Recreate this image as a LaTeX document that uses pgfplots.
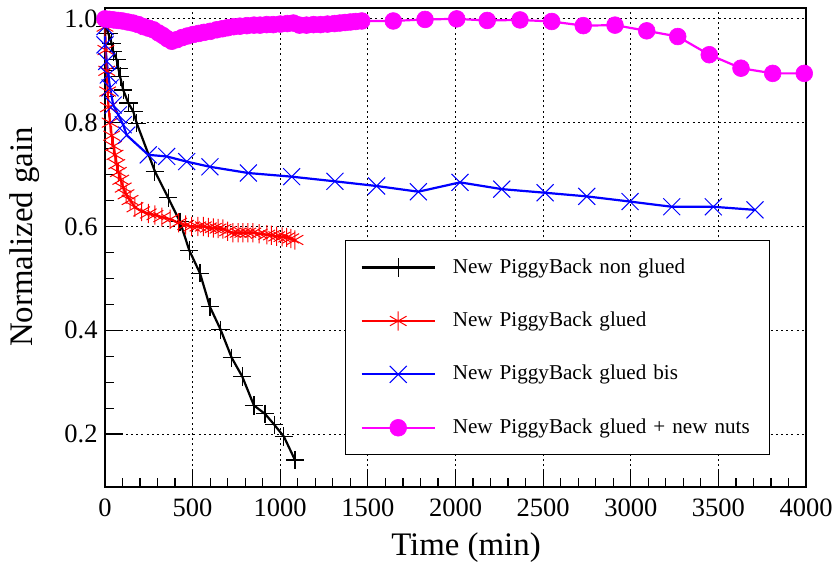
\documentclass[border=0pt]{standalone}
\usepackage{fontspec}
\setmainfont{Liberation Serif}
\usepackage{pgfplots}
\pgfplotsset{compat=1.18}
\definecolor{rootred}{RGB}{255,0,0}
\definecolor{rootblue}{RGB}{0,0,255}
\definecolor{rootmagenta}{RGB}{255,0,255}

\begin{document}
\begin{tikzpicture}
\begin{axis}[
  scale only axis, width=350.5bp, height=239.5bp,
  xmin=0, xmax=4000, ymin=0.098, ymax=1.021,
  clip=false,
  xtick={0,500,1000,1500,2000,2500,3000,3500,4000},
  ytick={0.2,0.4,0.6,0.8,1.0},
  minor x tick num=4, minor y tick num=3,
  xtick pos=bottom, ytick pos=left,
  tick align=inside,
  major tick length=9bp, minor tick length=4.5bp,
  every tick/.style={black, line width=0.6bp},
  grid=major,
  major grid style={black, line width=0.5bp, dash pattern=on 1bp off 1.6bp},
  axis line style={line width=0.6bp},
  /pgf/number format/assume math mode=true,
  tick label style={font=\fontsize{13.3}{15}\selectfont, inner sep=0pt},
  xticklabel style={/pgf/number format/set thousands separator={}, anchor=north, yshift=-5.5bp},
  yticklabel style={/pgf/number format/.cd, fixed, fixed zerofill, precision=1, /tikz/.cd, anchor=east, xshift=-3.5bp},
  xlabel={Time (min)}, ylabel={Normalized gain},
  label style={font=\fontsize{16.5}{19}\selectfont},
  xlabel style={at={(axis description cs:0.515,-0.127)}, anchor=center},
  ylabel style={at={(axis description cs:-0.114,0.522)}, anchor=center},
  legend style={at={(rel axis cs:0.3424,0.5157)}, anchor=north west, draw=black,
    line width=0.6bp, inner xsep=7.5bp, inner ysep=8.25bp, row sep=16.2bp,
    column sep=8.5bp, font=\fontsize{10.6}{12}\selectfont,
    nodes={inner sep=0pt, text height=8bp, text depth=2.5bp, text width=151bp}},
  legend cell align=left,
  legend image code/.code={\draw[mark repeat=2, mark phase=2] plot coordinates {(0bp,0bp) (18.25bp,0bp) (36.5bp,0bp)};},
]
% non glued
\addplot[black, line width=1.1bp, mark=+, mark size=4.6bp, mark options={line width=0.55bp}] table {
x y
0 0.985
19 0.972
38 0.953
47 0.937
67 0.921
76 0.905
86 0.889
104 0.863
133 0.838
162 0.821
181 0.799
285 0.706
361 0.655
428 0.609
481 0.554
542 0.510
599 0.445
660 0.401
723 0.347
783 0.311
850 0.255
913 0.239
966 0.218
1021 0.195
1084 0.150
};
\addlegendentry{New PiggyBack non glued}
% glued
\addplot[rootred, line width=1.1bp, mark=asterisk, mark size=4.8bp, mark options={line width=0.5bp}] table {
x y
0 0.985
5 0.94
10 0.90
15 0.86
20 0.83
29 0.80
38 0.775
48 0.755
57 0.738
67 0.72
76 0.705
90 0.69
104 0.675
120 0.662
143 0.651
171 0.637
209 0.629
247 0.625
285 0.622
324 0.618
371 0.614
420 0.607
460 0.603
495 0.600
530 0.600
561 0.600
590 0.598
618 0.597
645 0.596
673 0.595
700 0.591
730 0.588
760 0.588
787 0.588
815 0.588
844 0.588
880 0.586
923 0.584
950 0.583
980 0.581
1010 0.580
1037 0.579
1060 0.577
1084 0.574
};
\addlegendentry{New PiggyBack glued}
% glued bis
\addplot[rootblue, line width=1.1bp, mark=x, mark size=6bp, mark options={line width=0.5bp}] table {
x y
0 0.985
0 0.95
10 0.918
19 0.892
29 0.867
47 0.834
76 0.815
104 0.796
124 0.776
247 0.738
352 0.735
466 0.725
599 0.715
818 0.703
1065 0.696
1312 0.687
1550 0.678
1788 0.667
2026 0.685
2264 0.672
2511 0.665
2749 0.658
2996 0.648
3234 0.638
3471 0.638
3709 0.632
};
\addlegendentry{New PiggyBack glued bis}
% glued + new nuts
\addplot[rootmagenta, line width=1.1bp, mark=*, mark size=4.2bp, mark options={draw=rootmagenta, fill=rootmagenta, line width=0.3bp}] table {
x y
0 1.000
25 0.999
50 0.998
75 0.997
100 0.996
130 0.994
160 0.992
190 0.989
220 0.985
250 0.982
276 0.979
305 0.973
330 0.968
355 0.962
381 0.957
410 0.960
440 0.964
470 0.967
504 0.970
535 0.972
565 0.974
600 0.976
637 0.979
670 0.981
700 0.983
735 0.985
770 0.986
810 0.987
850 0.988
885 0.988
923 0.989
960 0.989
1000 0.990
1040 0.991
1075 0.992
1110 0.988
1150 0.988
1190 0.989
1230 0.989
1270 0.990
1310 0.991
1340 0.992
1370 0.993
1400 0.994
1430 0.995
1465 0.996
1645 0.996
1826 0.999
2007 1.000
2181 0.997
2368 0.998
2549 0.995
2729 0.987
2910 0.988
3091 0.977
3268 0.966
3448 0.931
3629 0.905
3810 0.895
3990 0.895
};
\addlegendentry{New PiggyBack glued + new nuts}
\end{axis}
\pgfresetboundingbox
\path (current axis.south west) ++(-52.5bp,-38bp) rectangle ++(419bp,281.5bp);
\end{tikzpicture}
\end{document}
